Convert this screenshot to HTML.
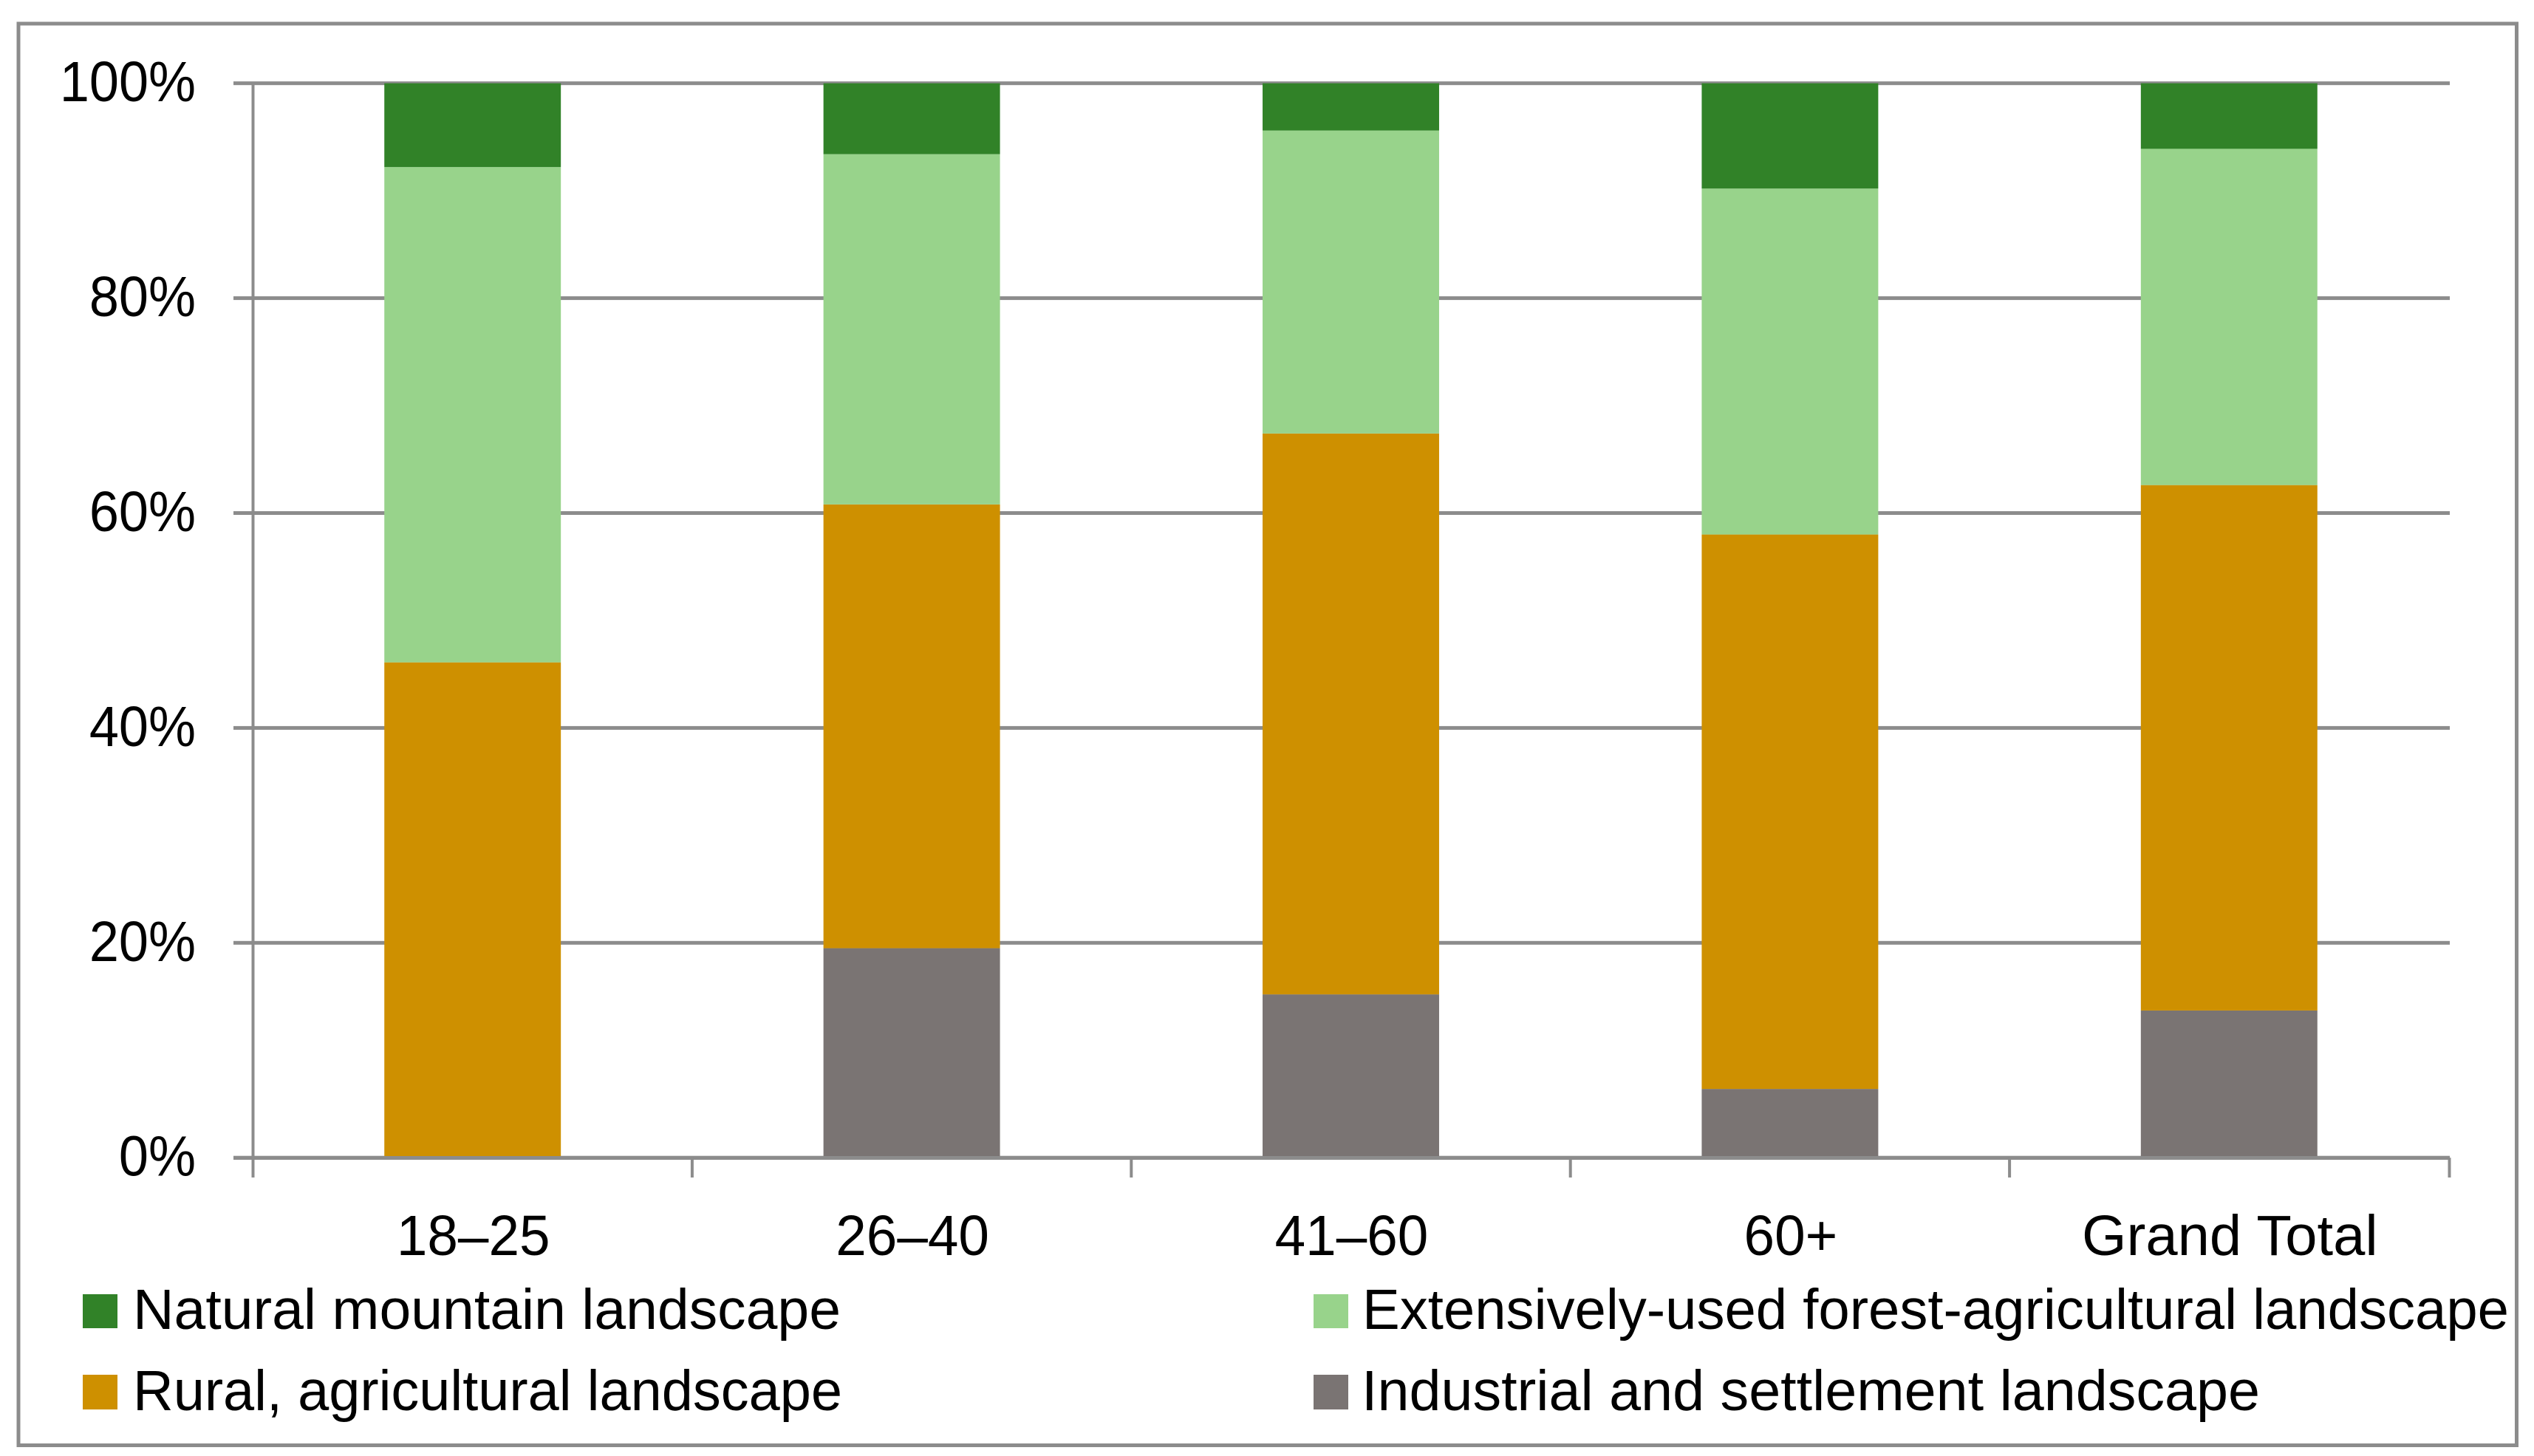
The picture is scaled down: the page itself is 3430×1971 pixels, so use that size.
<!DOCTYPE html>
<html lang="en">
<head>
<meta charset="utf-8">
<title>Landscape preference by age group</title>
<style>
  html, body { margin: 0; padding: 0; background: #ffffff; }
  svg { display: block; }
  text { font-family: "Liberation Sans", sans-serif; font-size: 77px; fill: #000000; }
</style>
</head>
<body>
<svg id="chart" xmlns="http://www.w3.org/2000/svg" width="3430" height="1971" viewBox="0 0 3430 1971">
  <rect x="0" y="0" width="3430" height="1971" fill="#ffffff"/>
  <rect x="25" y="32" width="3381.5" height="1924.5" fill="#ffffff" stroke="#8c8c8c" stroke-width="5"/>
  <g id="grid"></g>
  <g id="bars"></g>
  <g id="axes"></g>
  <g>
    <g>
      <rect x="112" y="1752" width="47" height="46" fill="#318228"/>
      <text x="180" y="1799" textLength="958" lengthAdjust="spacingAndGlyphs">Natural mountain landscape</text>
    </g>
    <g>
      <rect x="1778" y="1752" width="47" height="46" fill="#98D38B"/>
      <text x="1844" y="1799" textLength="1552" lengthAdjust="spacingAndGlyphs">Extensively-used forest-agricultural landscape</text>
    </g>
    <g>
      <rect x="112" y="1861" width="47" height="47" fill="#CE9000"/>
      <text x="180" y="1909" textLength="960" lengthAdjust="spacingAndGlyphs">Rural, agricultural landscape</text>
    </g>
    <g>
      <rect x="1778" y="1861" width="47" height="47" fill="#7A7473"/>
      <text x="1843" y="1909" textLength="1216" lengthAdjust="spacingAndGlyphs">Industrial and settlement landscape</text>
    </g>
  </g>
</svg>
<script>
const categories = ["18–25", "26–40", "41–60", "60+", "Grand Total"];
const industrial = [0, 19.5, 15.2, 6.4, 13.7];
const rural = [46.1, 41.3, 52.2, 51.6, 48.9];
const extensive = [46.1, 32.6, 28.2, 32.2, 31.3];
const natural = [7.8, 6.6, 4.4, 9.8, 6.1];
const yTicks = [0, 20, 40, 60, 80, 100];
const yTickLabels = ["0%", "20%", "40%", "60%", "80%", "100%"];

const NS = "http://www.w3.org/2000/svg";
const LINE = "#8c8c8c";
const plotLeft = 342.5, plotRight = 3314.5, yBase = 1567.2, yTop = 112.7;
const slot = (plotRight - plotLeft) / categories.length;
const barWidth = slot * 0.402;
function yScale(v) { return yBase - (v / 100) * (yBase - yTop); }
function xCenter(i) { return plotLeft + slot * (i + 0.5); }
function make(tag, attrs, parent) {
  const el = document.createElementNS(NS, tag);
  for (const k in attrs) { el.setAttribute(k, attrs[k]); }
  parent.appendChild(el);
  return el;
}
const grid = document.getElementById("grid");
const bars = document.getElementById("bars");
const axes = document.getElementById("axes");

yTicks.forEach(function (t, i) {
  const line = make("rect", { x: 316, y: yScale(t) - 2.5, width: plotRight + 1.5 - 316, height: 5, fill: LINE }, grid);
  
  
  const label = make("text", { x: 265, y: yScale(t) + 24.5, "text-anchor": "end" }, axes);
  label.textContent = yTickLabels[i];
  
  
  label.setAttribute('textLength', (label.getComputedTextLength() * 0.935).toFixed(1));
  label.setAttribute('lengthAdjust', 'spacingAndGlyphs');
});

const seriesList = [
  { key: "industrial", values: industrial, color: "#7A7473" },
  { key: "rural", values: rural, color: "#CE9000" },
  { key: "extensive", values: extensive, color: "#98D38B" },
  { key: "natural", values: natural, color: "#318228" }
];
categories.forEach(function (c, i) {
  let sum = 0;
  seriesList.forEach(function (s) {
    const v = s.values[i];
    const y1 = yScale(sum);
    const y2 = yScale(sum + v);
    sum += v;
    const r = make("rect", { x: xCenter(i) - barWidth / 2, y: y2, width: barWidth, height: Math.max(0, y1 - y2), fill: s.color }, bars);
    
    
  });
});

const vAxis = make("rect", { x: plotLeft - 2, y: yTop, width: 4, height: 1594 - yTop, fill: LINE }, axes);



const baseline = make("rect", { x: 316, y: yBase - 2.2, width: plotRight + 1.5 - 316, height: 5, fill: LINE }, axes);



for (let i = 0; i <= categories.length; i++) {
  const tick = make("rect", { x: plotLeft + slot * i - (i === categories.length ? 1 : 2), y: yBase, width: 4, height: 1594 - yBase, fill: LINE }, axes);
  
  
}

categories.forEach(function (c, i) {
  const label = make("text", { x: xCenter(i) + 1, y: 1699, "text-anchor": "middle" }, axes);
  label.textContent = c;
  
  
  const fit = c.length > 5 ? 1.01 : 0.97;
  label.setAttribute('textLength', (label.getComputedTextLength() * fit).toFixed(1));
  label.setAttribute('lengthAdjust', 'spacingAndGlyphs');
});
</script>
</body>
</html>
